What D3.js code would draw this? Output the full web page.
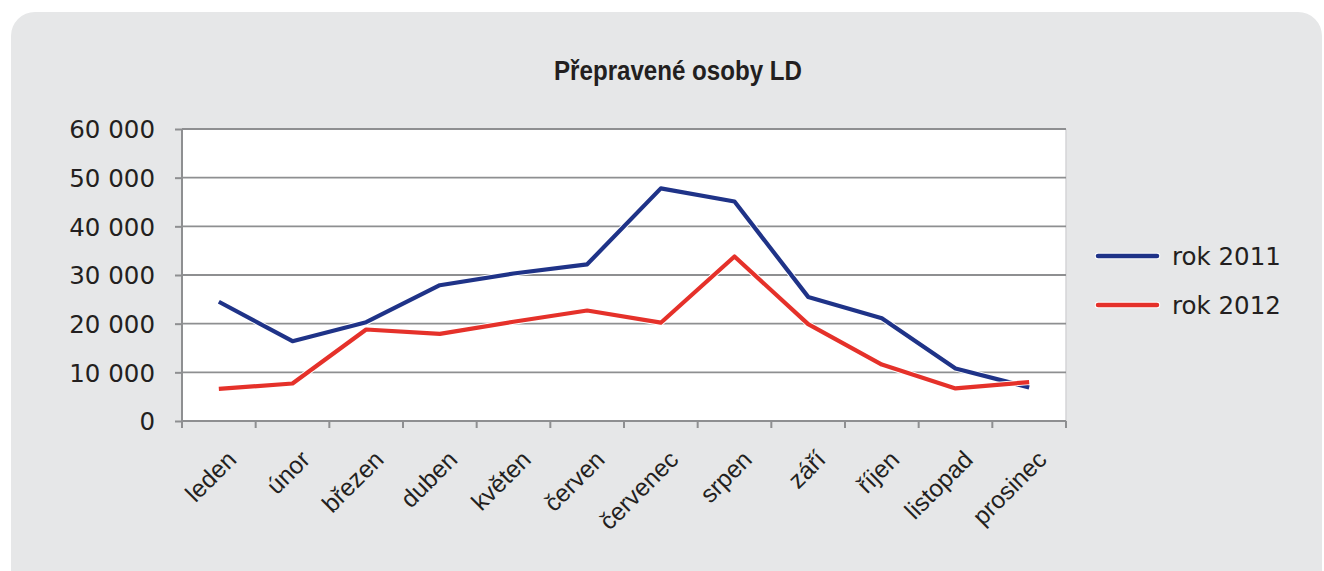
<!DOCTYPE html>
<html lang="cs">
<head>
    <meta charset="UTF-8">
    <title>Přepravené osoby LD</title>
    <script src="https://d3js.org/d3.v7.min.js"></script>
    <style>
        body { margin: 0; background: #fff; }
        svg { display: block; }
    </style>
</head>
<body>
    <div id="chart"></div>
    <script>
        // data
        var months = ["leden", "únor", "březen", "duben", "květen", "červen",
                      "červenec", "srpen", "září", "říjen", "listopad", "prosinec"];
        var rok2011 = [24500, 16400, 20300, 27900, 30300, 32200, 47800, 45100, 25500, 21100, 10800, 6900];
        var rok2012 = [6600, 7700, 18800, 17900, 20400, 22700, 20200, 33800, 19900, 11600, 6700, 8000];
        var yTicks = [0, 10000, 20000, 30000, 40000, 50000, 60000];
        var seriesNames = ["rok 2011", "rok 2012"];
        var seriesColors = ["#1f3388", "#e5312a"];

        var width = 1324, height = 571;
        var plot = { left: 182, right: 1066, top: 129, bottom: 421 };

        var svg = d3.select("#chart").append("svg")
            .attr("width", width)
            .attr("height", height);

        // grey panel
        svg.append("rect")
            .attr("x", 11).attr("y", 12)
            .attr("width", 1311).attr("height", 620)
            .attr("rx", 24)
            .attr("fill", "#e6e7e8");

        svg.append("text")
            .attr("x", 678).attr("y", 80)
            .attr("text-anchor", "middle")
            .attr("font-family", "Liberation Sans Narrow, Arial Narrow, sans-serif")
            .attr("font-weight", "bold")
            .attr("font-size", 27)
            .attr("textLength", 248)
            .attr("lengthAdjust", "spacingAndGlyphs")
            .attr("fill", "#231f20")
            .text("Přepravené osoby LD");

        var x = d3.scaleBand()
            .domain(months)
            .range([plot.left, plot.right]);

        var y = d3.scaleLinear()
            .domain([0, 60000])
            .range([plot.bottom, plot.top]);

        // white plot area
        svg.append("rect")
            .attr("x", plot.left).attr("y", plot.top)
            .attr("width", plot.right - plot.left)
            .attr("height", plot.bottom - plot.top)
            .attr("fill", "#fff");
        svg.append("line")
            .attr("x1", plot.right).attr("x2", plot.right)
            .attr("y1", plot.top).attr("y2", plot.bottom)
            .attr("stroke", "#d4d5d7").attr("stroke-width", 1.5);

        // gridlines
        svg.append("g")
            .selectAll("line")
            .data(yTicks.filter(d => d > 0))
            .enter().append("line")
            .attr("x1", plot.left).attr("x2", plot.right)
            .attr("y1", d => y(d)).attr("y2", d => y(d))
            .attr("stroke", "#8e8f91")
            .attr("stroke-width", 1.8);

        var fmt = d => d3.format(",")(d).replace(/,/g, " ");

        // y axis
        var yAxis = svg.append("g")
            .attr("transform", "translate(" + plot.left + ",0)")
            .call(d3.axisLeft(y).tickValues(yTicks).tickSize(7).tickPadding(20).tickFormat(fmt));
        yAxis.select(".domain").remove();
        yAxis.append("line")
            .attr("x1", 0).attr("x2", 0)
            .attr("y1", plot.top).attr("y2", plot.bottom + 7)
            .attr("stroke", "#8e8f91").attr("stroke-width", 2);
        yAxis.selectAll(".tick line").attr("stroke", "#8e8f91").attr("stroke-width", 2);
        yAxis.selectAll(".tick text")
            .attr("font-family", "DejaVu Sans, sans-serif")
            .attr("font-size", 24.5)
            .attr("fill", "#231f20")
            .attr("dy", "0.36em");

        // x axis: ticks between categories
        var xg = svg.append("g");
        xg.append("line")
            .attr("x1", plot.left).attr("x2", plot.right)
            .attr("y1", plot.bottom).attr("y2", plot.bottom)
            .attr("stroke", "#8e8f91").attr("stroke-width", 2);
        var boundaries = months.map(m => x(m)).concat([plot.right]);
        xg.selectAll(".xtick")
            .data(boundaries)
            .enter().append("line")
            .attr("class", "xtick")
            .attr("x1", d => d).attr("x2", d => d)
            .attr("y1", plot.bottom).attr("y2", plot.bottom + 7)
            .attr("stroke", "#8e8f91").attr("stroke-width", 2);
        xg.selectAll(".xlabel")
            .data(months)
            .enter().append("text")
            .attr("class", "xlabel")
            .attr("transform", d => "translate(" + (x(d) + x.bandwidth() / 2 + 19) + "," + 461 + ") rotate(-45)")
            .attr("text-anchor", "end")
            .attr("font-family", "Liberation Sans, Arial, sans-serif")
            .attr("font-size", 24.5)
            .attr("fill", "#231f20")
            .text(d => d);

        // lines
        var line = d3.line()
            .x((d, i) => x(months[i]) + x.bandwidth() / 2)
            .y(d => y(d));

        [rok2011, rok2012].forEach((s, k) => {
            svg.append("path")
                .datum(s)
                .attr("d", line)
                .attr("fill", "none")
                .attr("stroke", "#fff")
                .attr("stroke-width", 6)
                .attr("stroke-linejoin", "round");
            svg.append("path")
                .datum(s)
                .attr("d", line)
                .attr("fill", "none")
                .attr("stroke", seriesColors[k])
                .attr("stroke-width", 4.2)
                .attr("stroke-linejoin", "round");
        });

        // legend
        var legend = svg.append("g");
        seriesNames.forEach((name, k) => {
            var ly = 256 + k * 49;
            legend.append("line")
                .attr("x1", 1098).attr("x2", 1157)
                .attr("y1", ly).attr("y2", ly)
                .attr("stroke", "#fff").attr("stroke-width", 6.5)
                .attr("stroke-linecap", "round");
            legend.append("line")
                .attr("x1", 1098).attr("x2", 1157)
                .attr("y1", ly).attr("y2", ly)
                .attr("stroke", seriesColors[k]).attr("stroke-width", 4.5)
                .attr("stroke-linecap", "round");
            legend.append("text")
                .attr("x", 1172).attr("y", ly + 9)
                .attr("font-family", "DejaVu Sans, sans-serif")
                .attr("font-size", 24.5)
                .attr("fill", "#231f20")
                .text(name);
        });
    </script>
</body>
</html>
